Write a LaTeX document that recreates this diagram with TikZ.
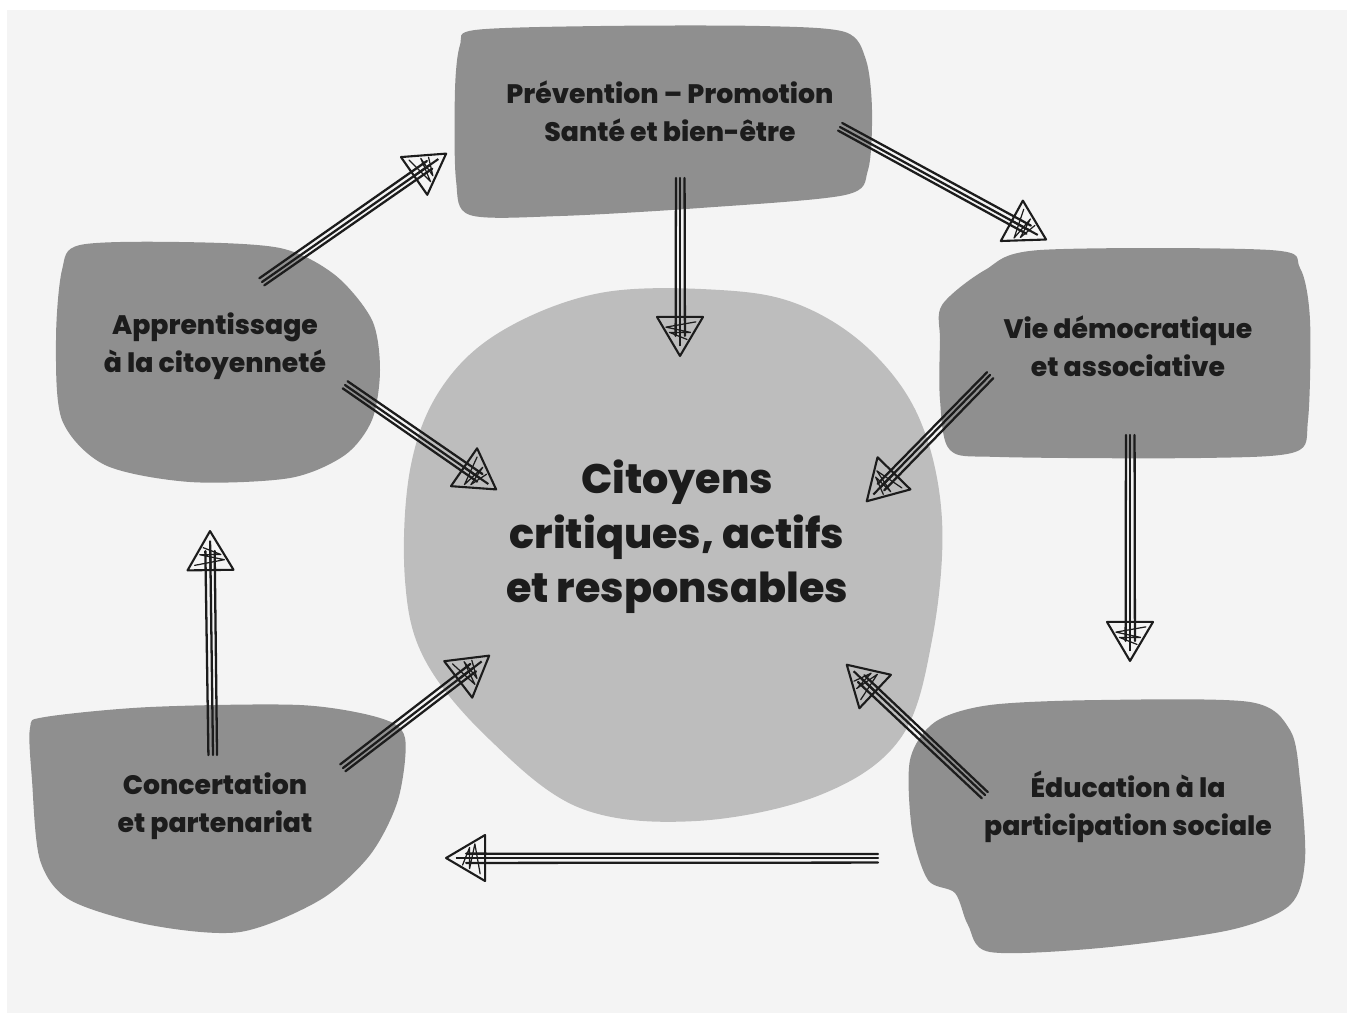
\documentclass[tikz,border=0pt]{standalone}
\usepackage{fontspec}
\setmainfont{Poppins}[BoldFont={Poppins ExtraBold}]
\usetikzlibrary{arrows.meta,calc}

\definecolor{paper}{HTML}{F4F4F4}
\definecolor{blobgray}{HTML}{8F8F8F}
\definecolor{roundgray}{HTML}{BDBDBD}
\definecolor{ink}{HTML}{1C1C1C}

\tikzset{
  boxtext/.style={text=ink,align=center,font=\bfseries\fontsize{15.2}{21.5}\selectfont},
  bigtext/.style={text=ink,align=center,font=\bfseries\fontsize{23.5}{31}\selectfont},
  blob/.style={fill=blobgray},
  skline/.style={draw=ink,line width=1.3pt,line cap=round,line join=round},
  skhead/.style={draw=ink,line width=1.2pt,-{Triangle[open,round,length=24pt,width=28pt]}}
}

% hand drawn arrow: strokes, an open head and a scribble in it
\newcommand{\skarrow}[2]{%
  \coordinate (sk-e) at ($(#2)!12pt!(#1)$);
  \coordinate (sk-1) at ($(#2)!20pt!(#1)$);
  \coordinate (sk-2) at ($(#2)!17pt!(#1)$);
  \coordinate (sk-3) at ($(#2)!14pt!(#1)$);
  \coordinate (sk-4) at ($(#2)!10pt!(#1)$);
  \draw[skhead] ($(#2)!6pt!(#1)$) -- (#2);
  \draw[skline] (#1) -- (sk-e);
  \draw[skline] ($(#1)!2.6pt!90:(#2)$) -- ($(sk-e)!2.8pt!-90:(#1)$);
  \draw[skline] ($(#1)!2.3pt!-90:(#2)$) -- ($(sk-e)!2.5pt!90:(#1)$);
  \draw[skline,line width=0.7pt] ($(sk-1)!9pt!90:(#2)$) -- ($(sk-2)!8pt!-90:(#2)$)
    -- ($(sk-3)!6pt!90:(#2)$) -- ($(sk-3)!6pt!-90:(#2)$) -- ($(sk-4)!4pt!90:(#2)$);
}

\begin{document}
\begin{tikzpicture}[x=0.02cm,y=-0.02cm]
    \useasboundingbox (0,0) rectangle (1353,1019);
    \fill[paper] (7,10) rectangle (1347,1013);

    % shapes
    \fill[roundgray] plot[smooth cycle,tension=0.6] coordinates {(600,293) (720,290) (800,305) (870,350) (920,420) (942,520) (932,640) (900,739) (820,795) (696,821) (580,808) (489,739) (425,660) (405,580) (410,470) (440,390) (500,332)};
    \fill[blob] plot[smooth cycle,tension=0.5] coordinates {(475,30) (600,26) (760,26) (845,32) (866,60) (872,110) (868,170) (845,195) (700,208) (560,216) (470,215) (456,180) (455,90) (460,45)};
    \fill[blob] plot[smooth cycle,tension=0.5] coordinates {(80,245) (180,242) (280,248) (335,275) (372,320) (380,370) (372,420) (345,455) (290,478) (190,482) (105,465) (62,420) (56,340) (62,270)};
    \fill[blob] plot[smooth cycle,tension=0.5] coordinates {(942,305) (985,270) (1040,250) (1270,250) (1300,268) (1310,320) (1308,420) (1295,452) (1200,458) (1000,457) (950,450) (940,400) (940,340)};
    \fill[blob] plot[smooth cycle,tension=0.5] coordinates {(30,728) (45,717) (150,707) (300,705) (380,718) (405,738) (398,800) (370,855) (320,900) (240,932) (150,925) (70,900) (40,860) (32,780)};
    \fill[blob] plot[smooth cycle,tension=0.5] coordinates {(935,722) (990,705) (1100,700) (1250,702) (1290,730) (1300,780) (1305,860) (1290,905) (1230,930) (1100,948) (990,952) (968,925) (955,893) (928,880) (912,830) (910,760)};

    % labels
    \node[boxtext] (prev) at (670,111) {Prévention -- Promotion\\Santé et bien-être};
    \node[boxtext] (app) at (215,346) {Apprentissage\\à la citoyenneté};
    \node[boxtext] (vie) at (1128,346) {Vie démocratique\\et associative};
    \node[boxtext] (con) at (215,806) {Concertation\\et partenariat};
    \node[boxtext] (edu) at (1128,807) {Éducation à la\\participation sociale};
    \node[bigtext] (cit) at (677,537) {Citoyens\\critiques, actifs\\et responsables};

    % arrow ends
    \coordinate (prev-r) at ($(prev)+(170,16)$);
    \coordinate (prev-d) at ($(prev)+(10,67)$);
    \coordinate (app-u) at ($(app)+(47,-64)$);
    \coordinate (app-r) at ($(app)+(130,39)$);
    \coordinate (vie-l) at ($(vie)+(-138,29)$);
    \coordinate (vie-d) at ($(vie)+(2,89)$);
    \coordinate (edu-l) at ($(edu)+(-143,-12)$);
    \coordinate (edu-b) at ($(edu)+(-250,51)$);
    \coordinate (con-u) at ($(con)+(-2,-51)$);
    \coordinate (con-r) at ($(con)+(128,-38)$);
    \coordinate (vie-t) at (1047,240);
    \coordinate (cit-t) at (680,357);
    \coordinate (prev-b) at (447,153);
    \coordinate (cit-l) at (497,490);
    \coordinate (cit-r) at (866,502);
    \coordinate (edu-t) at (1130,662);
    \coordinate (cit-br) at (846,664);
    \coordinate (con-e) at (445,858);
    \coordinate (app-b) at (210,530);
    \coordinate (cit-bl) at (490,655);

    \skarrow{prev-r}{vie-t}
    \skarrow{prev-d}{cit-t}
    \skarrow{app-u}{prev-b}
    \skarrow{app-r}{cit-l}
    \skarrow{vie-l}{cit-r}
    \skarrow{vie-d}{edu-t}
    \skarrow{edu-l}{cit-br}
    \skarrow{edu-b}{con-e}
    \skarrow{con-u}{app-b}
    \skarrow{con-r}{cit-bl}
\end{tikzpicture}
\end{document}
